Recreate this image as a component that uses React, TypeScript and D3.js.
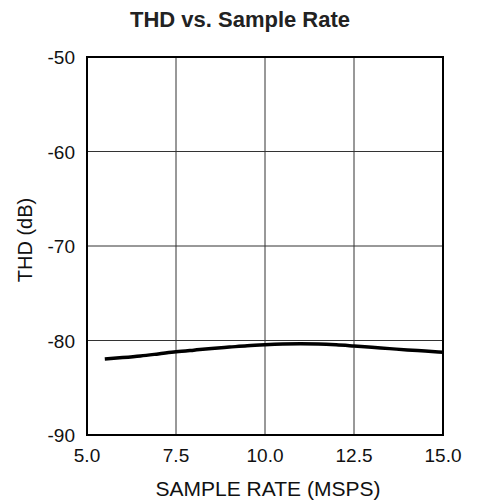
import React from "react";
import * as d3 from "d3";

const xTicks = [5.0, 7.5, 10.0, 12.5, 15.0];
const yTicks = [-50, -60, -70, -80, -90];
const sampleRate = [5.5, 6.0, 6.5, 7.0, 7.5, 8.0, 8.5, 9.0, 9.5, 10.0, 10.5, 11.0, 11.5, 12.0, 12.5, 13.0, 13.5, 14.0, 14.5, 15.0];
const thd = [-81.95, -81.8, -81.63, -81.42, -81.2, -81.02, -80.85, -80.7, -80.55, -80.45, -80.38, -80.35, -80.37, -80.45, -80.58, -80.72, -80.86, -81.0, -81.12, -81.25];

export default function App() {
  const W = 479, H = 504;
  const left = 87, right = 443, top = 57, bottom = 435;
  const x = d3.scaleLinear().domain([5, 15]).range([left, right]);
  const y = d3.scaleLinear().domain([-90, -50]).range([bottom, top]);
  const line = d3.line<number>().x((_, i) => x(sampleRate[i])).y((d) => y(d)).curve(d3.curveMonotoneX);
  const font = "'Liberation Sans', Arial, sans-serif";
  return (
    <svg width={W} height={H} style={{ position: "absolute", left: 0, top: 0 }} fontFamily={font} fill="#111">
      <rect width={W} height={H} fill="#fff" />
      <text x={240} y={27} textAnchor="middle" fontSize={22} fontWeight="bold" fill="#222">THD vs. Sample Rate</text>
      {xTicks.map((t) => (
        <line key={"gx" + t} x1={x(t)} x2={x(t)} y1={top} y2={bottom} stroke="#333" strokeWidth={1} />
      ))}
      {yTicks.map((t) => (
        <line key={"gy" + t} x1={left} x2={right} y1={y(t)} y2={y(t)} stroke="#333" strokeWidth={1} />
      ))}
      <rect x={left} y={top} width={right - left} height={bottom - top} fill="none" stroke="#000" strokeWidth={2} />
      <path d={line(thd) || ""} fill="none" stroke="#000" strokeWidth={3.5} />
      {yTicks.map((t) => (
        <text key={"ty" + t} x={left - 12} y={y(t) + 7} textAnchor="end" fontSize={19}>{t}</text>
      ))}
      {xTicks.map((t) => (
        <text key={"tx" + t} x={x(t)} y={bottom + 27} textAnchor="middle" fontSize={19}>{t.toFixed(1)}</text>
      ))}
      <text x={268} y={496} textAnchor="middle" fontSize={21}>SAMPLE RATE (MSPS)</text>
      <text transform={`translate(32, 240) rotate(-90)`} textAnchor="middle" fontSize={20}>THD (dB)</text>
    </svg>
  );
}
